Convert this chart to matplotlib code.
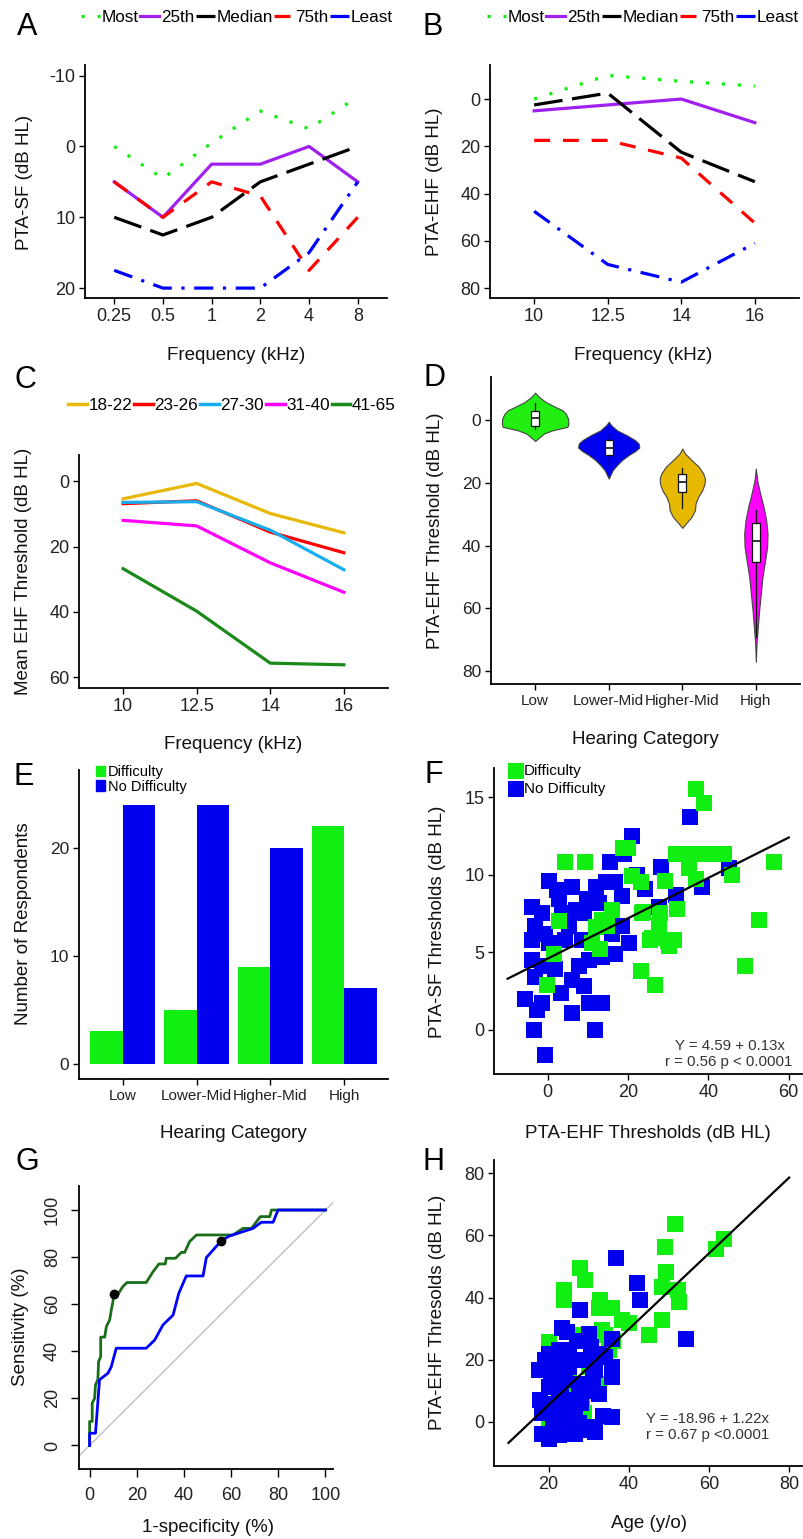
import numpy as np
import matplotlib.pyplot as plt
from matplotlib.lines import Line2D
from matplotlib.patches import Patch

plt.rcParams['font.family'] = ['Liberation Sans', 'DejaVu Sans']
plt.rcParams['axes.unicode_minus'] = False

W, H = 804, 1539

# ---------------- data ----------------
# A: PTA-SF percentiles
freq_sf = ['0.25', '0.5', '1', '2', '4', '8']
sf_most = [0, 4.5, -0.5, -5, -2.5, -7]
sf_25th = [5, 10, 2.5, 2.5, 0, 5]
sf_median = [10, 12.5, 10, 5, 2.5, 0]
sf_75th = [5, 10, 5, 7, 17.5, 10]
sf_least = [17.5, 20, 20, 20, 15, 5]

# B: PTA-EHF percentiles
freq_ehf = ['10', '12.5', '14', '16']
ehf_most = [0, -10, -7.5, -5.5]
ehf_25th = [5, 2.5, 0, 10]
ehf_median = [2.5, -2.5, 22.5, 35]
ehf_75th = [17.5, 17.5, 25, 52.5]
ehf_least = [47.5, 70, 77.5, 61]

# C: mean EHF threshold by age group
age_groups = ['18-22', '23-26', '27-30', '31-40', '41-65']
c_18_22 = [5.4, 0.7, 9.9, 15.8]
c_23_26 = [6.9, 6.0, 15.6, 21.9]
c_27_30 = [6.5, 6.3, 15.0, 27.1]
c_31_40 = [12.0, 13.7, 25.0, 34.0]
c_41_65 = [26.8, 39.8, 55.7, 56.2]

# D: violin profiles (threshold, relative half width) and box stats
hearing_cats = ['Low', 'Lower-Mid', 'Higher-Mid', 'High']
low_y = [-8.8, -7.4, -5.8, -4.2, -3.2, -2.1, -0.5, 1.1, 2.1, 2.7, 3.2, 4.2, 5.5, 6.6]
low_w = [0, 12, 32, 62, 82, 92, 99, 100, 97, 72, 52, 27, 12, 0]
lmid_y = [0.5, 1.6, 3.2, 4.8, 6.4, 7.4, 8.7, 9.8, 11.1, 12.7, 14.3, 15.9, 17.5, 18.6]
lmid_w = [0, 8, 25, 55, 80, 90, 92, 80, 60, 40, 25, 12, 5, 0]
hmid_y = [9.0, 10.6, 12.7, 14.9, 17.0, 18.6, 20.2, 22.3, 24.4, 26.5, 28.7, 30.8, 32.4, 34.3]
hmid_w = [0, 8, 28, 50, 63, 68, 67, 60, 48, 40, 38, 28, 15, 0]
high_y = [15.4, 19.1, 23.4, 27.6, 31.8, 36.1, 40.3, 44.6, 49.9, 55.2, 60.5, 65.8, 71.1, 77.0]
high_w = [0, 4, 13, 23, 31, 35, 34, 28, 20, 15, 10, 6, 2, 0]
box_q1 = [-2.9, 6.4, 17.0, 32.6]
box_med = [-0.8, 9.0, 19.6, 38.5]
box_q3 = [1.8, 11.1, 23.0, 45.3]
box_lo = [-5.5, 4.5, 15.1, 28.7]
box_hi = [2.9, 14.3, 28.1, 69.0]

# E: respondents per hearing category
difficulty = [3, 5, 9, 22]
no_difficulty = [24, 24, 20, 7]

# F: PTA-SF vs PTA-EHF
f_diff_x = [36.8, 38.8, 4.4, 9.2, 20, 31.8, 35.1, 38.4, 41.7, 43.8, 35.1, 36.8, 45.9, 56.3,
            29.3, 23.1, 23.5, 32.2, 28, 27.6, 25.5, 30.1, 31.4, 23.1, 26.8, 52.5, 49.2, 16,
            13.5, 11.9, 14.8, 2.7, -0.2, 1.5, 13.1, 11, 21, 26, 30, 23.7, 18.7]
f_diff_y = [15.5, 14.6, 10.8, 10.8, 11.7, 11.3, 11.3, 11.3, 11.3, 11.3, 10.4, 9.7, 10, 10.8,
            9.6, 9.5, 7.5, 7.8, 7.5, 6.7, 5.8, 5.4, 5.8, 3.8, 2.9, 7.1, 4.1, 7.7,
            7.1, 6.6, 6.7, 7.0, 2.9, 4.9, 5.2, 5.6, 9.9, 5.9, 5.7, 7.6, 11.7]
f_nodiff_x = [35.5, 21, 18.9, 15.6, 28.1, 22.2, 24.3, 38.4, 45, 31.8, 27.6, 0.2, 6.1, 2.7,
              11.9, 14.4, 16.8, -3.9, -1.4, -3.1, -3.9, -0.6, 3.6, 6.9, 9, 5.2, 8.5, 18.5,
              18.5, 20.2, 16.8, 16, 13.5, -3.9, -1.4, -3.1, 1.9, 7.7, 10.2, 6.1, 9, 3.2,
              -5.6, -1.4, -2.7, 6.1, 10.2, 13.5, -3.5, 11.7, -0.7, 0.2, 4.4, 2.3, 9.8, 12.7]
f_nodiff_y = [13.7, 12.5, 11.3, 10.8, 10.5, 10, 9.1, 9.2, 10.4, 8.7, 7.9, 9.6, 9.2, 8.4,
              9.2, 9.5, 9.5, 7.9, 7.5, 6.7, 5.8, 6.2, 7.5, 7.7, 7.5, 6.7, 5.8, 8.6,
              6.7, 5.6, 4.9, 6.2, 4.7, 4.5, 4.1, 3.4, 3.9, 4.1, 4.5, 3.2, 2.8, 2.4,
              2.0, 1.7, 1.3, 1.1, 1.7, 1.7, 0, 0, -1.6, 5.6, 5.8, 9.0, 8.4, 8.2]
f_fit = (4.59, 0.13)
f_fit_range = (-10, 60)

# G: ROC curves
roc_green_fpr = [0, 0, 1.1, 1.1, 2.1, 2.5, 3.5, 3.8, 4.7, 4.7, 6.4, 7.1, 8.5, 9.2, 9.9, 10.2,
                 12, 14.1, 15.8, 24, 26.9, 29.4, 32.1, 32.5, 36.4, 38.9, 40.3, 42.4, 45.3,
                 60.8, 65, 68.6, 72.4, 76.4, 77.1, 100]
roc_green_tpr = [0, 10.2, 10.2, 18, 20, 25.7, 28, 35.6, 37.8, 46, 46, 50.5, 53.3, 57.6, 61.1,
                 64.2, 64.2, 67.5, 69.2, 69.2, 73.8, 77.1, 77.1, 79.5, 79.5, 82, 82, 86.6,
                 89.4, 89.4, 92.2, 92.2, 97.2, 97.2, 100, 100]
roc_blue_fpr = [0, 0, 2.5, 4.2, 7.8, 9.2, 11.3, 24, 27.6, 31.1, 35.4, 37.8, 41, 48.1, 49.5,
                55.9, 59.4, 69.3, 72.8, 77.8, 79.9, 100]
roc_blue_tpr = [0, 5.2, 5.2, 27.9, 30.7, 33.5, 41.3, 41.3, 44.8, 51.2, 55.4, 64.6, 72, 72,
                79.8, 87, 89, 92.2, 94.8, 94.8, 100, 100]
cut_green = (10.2, 64.2)
cut_blue = (55.9, 87)

# H: PTA-EHF vs age
h_diff_x = [51.5, 49, 49.2, 48.3, 52.3, 52.5, 48.2, 45, 61.7, 63.75, 40, 38.3, 35.8, 32.9,
            32.5, 27.9, 29.2, 23.75, 23.75, 20, 20, 33.3, 35, 28.3, 32.5, 28.75, 28.3, 26.7,
            20.8, 25, 30, 34, 36, 19.5]
h_diff_y = [63.7, 56.4, 48.3, 43.5, 42.4, 38.6, 32.7, 27.9, 55.8, 59, 31.7, 32.7, 36.5, 39.2,
            36.5, 49.4, 45.6, 42.4, 39.2, 25.8, 1.1, 29.5, 23.1, 27.9, 12.3, 2.7, 5.9, 11.3,
            16.6, 14.5, 17.7, 28, 26, 20]
h_nodiff_x = [36.9, 42.1, 42.9, 54.2, 27.9, 30, 23.3, 24.5, 35.8, 32.5, 35.8, 35.8, 32.5, 35.8,
              17.5, 20, 22.5, 25, 26.7, 29.2, 31.7, 21.7, 24.2, 27.5, 20, 22.5, 25, 26.7,
              20, 21.7, 24.2, 27.5, 30, 31.7, 18.3, 20, 22.5, 25, 26.7, 28.3, 17.9, 18.3,
              25, 22.5, 19.2, 33.5, 29, 31, 23, 19, 21, 24, 28, 30.5, 34, 27, 20.5]
h_nodiff_y = [52.8, 44.6, 39.2, 26.8, 36, 28.4, 30.1, 29, 26.8, 22, 17.7, 14.5, 9.1, 1.6,
              16.6, 22, 23.1, 23.1, 19.9, 19.9, 16.6, 15.6, 13.4, 12.3, 11.3, 8, 7, 4.8,
              5.9, 2.7, 0.5, -0.5, -1.6, -3.2, -3.8, -5.4, -4.3, -2.7, -3.8, -2.7, 7, 2.7,
              17.7, 18.8, 19.9, 2, 10, 14, 11, 4, -2, 4, 6, 24, 21, 26, 13]
h_fit = (-18.96, 1.22)
h_fit_range = (10, 80)

# ---------------- helpers ----------------
fig = plt.figure(figsize=(W / 100, H / 100), dpi=100)


def px_axes(x0, y0, x1, y1):
    ax = fig.add_axes([x0 / W, 1 - y1 / H, (x1 - x0) / W, (y1 - y0) / H])
    for s in ['top', 'right']:
        ax.spines[s].set_visible(False)
    for s in ['left', 'bottom']:
        ax.spines[s].set_linewidth(1.3)
    ax.tick_params(length=4, width=1, labelsize=13, labelcolor='#222', pad=3)
    return ax


def ftext(x, y, s, **kw):
    kw.setdefault('ha', 'center')
    kw.setdefault('va', 'center')
    kw.setdefault('color', '#111')
    return fig.text(x / W, 1 - y / H, s, **kw)


green = '#11ee11'
purple = '#a020f0'
styles = [
    dict(color=green, dashes=(1, 4)),
    dict(color=purple),
    dict(color='black', dashes=(9, 3)),
    dict(color='red', dashes=(5, 4)),
    dict(color='blue', dashes=(6, 3, 1, 3)),
]
pct_labels = ['Most', '25th', 'Median', '75th', 'Least']
leg_kw = dict(loc='center left', ncol=5, frameon=False, fontsize=12.3, handlelength=1.1,
              handletextpad=0.1, columnspacing=0.1, borderaxespad=0, borderpad=0)

# ---------------- A ----------------
axA = px_axes(85, 65, 387, 298)
xs = np.arange(len(freq_sf))
for vals, st in zip([sf_most, sf_25th, sf_median, sf_75th, sf_least], styles):
    axA.plot(xs, vals, lw=2.3, **st)
axA.set_xticks(xs, freq_sf)
axA.set_yticks([-10, 0, 10, 20])
axA.set_xlim(-0.6, 5.6)
axA.set_ylim(21.4, -11.5)

# ---------------- B ----------------
axB = px_axes(490, 65, 799, 298)
xs = np.arange(len(freq_ehf))
for vals, st in zip([ehf_most, ehf_25th, ehf_median, ehf_75th, ehf_least], styles):
    axB.plot(xs, vals, lw=2.3, **st)
axB.set_xticks(xs, freq_ehf)
axB.set_yticks([0, 20, 40, 60, 80])
axB.set_xlim(-0.6, 3.6)
axB.set_ylim(84.2, -14.4)

for x0 in [81, 487]:
    hs = [Line2D([], [], lw=2.3, **st) for st in styles]
    fig.legend(hs, pct_labels, bbox_to_anchor=(x0 / W, 1 - 17 / H), **leg_kw)

# ---------------- C ----------------
axC = px_axes(79, 455, 388, 688)
xs = np.arange(len(freq_ehf))
c_colors = ['#e8b808', 'red', '#17aeef', '#ff00ff', '#1a8a1a']
for vals, col in zip([c_18_22, c_23_26, c_27_30, c_31_40, c_41_65], c_colors):
    axC.plot(xs, vals, color=col, lw=2.3)
axC.set_xticks(xs, freq_ehf)
axC.set_yticks([0, 20, 40, 60])
axC.set_xlim(-0.6, 3.6)
axC.set_ylim(63.3, -8)
hs = [Line2D([], [], color=c, lw=2.5) for c in c_colors]
fig.legend(hs, age_groups, bbox_to_anchor=(68 / W, 1 - 405 / H), **leg_kw)

# ---------------- D ----------------
axD = px_axes(491, 377, 800, 684)
pos = np.arange(1, 5)
profiles = [(low_y, low_w), (lmid_y, lmid_w), (hmid_y, hmid_w), (high_y, high_w)]
vp_stats = []
widths = []
for (yy, ww), med in zip(profiles, box_med):
    vp_stats.append(dict(coords=np.array(yy), vals=np.array(ww, float), mean=med,
                         median=med, min=min(yy), max=max(yy)))
    widths.append(2 * max(ww) / 3 / 73.7)
vio = axD.violin(vp_stats, positions=pos, widths=widths, showmeans=False,
                 showextrema=False, showmedians=False)
for body, col in zip(vio['bodies'], ['#22ee11', '#0000f0', '#e6b800', '#ff00ff']):
    body.set_facecolor(col)
    body.set_edgecolor('#444')
    body.set_linewidth(0.8)
    body.set_alpha(1)
bstats = [dict(med=m, q1=a, q3=b, whislo=lo, whishi=hi, fliers=[])
          for m, a, b, lo, hi in zip(box_med, box_q1, box_q3, box_lo, box_hi)]
axD.bxp(bstats, positions=pos, widths=0.11, patch_artist=True, showcaps=False,
        showfliers=False, manage_ticks=False,
        boxprops=dict(facecolor='white', edgecolor='#111', lw=0.9),
        whiskerprops=dict(color='#111', lw=0.9),
        medianprops=dict(color='#111', lw=1.2))
axD.set_xticks(pos, hearing_cats)
axD.tick_params(axis='x', labelsize=11)
axD.tick_params(axis='y', labelsize=12.5)
axD.set_yticks([0, 20, 40, 60, 80])
axD.set_xlim(0.4, 4.6)
axD.set_ylim(84.1, -13.8)

# ---------------- E ----------------
axE = px_axes(79, 770, 388, 1079)
pos = np.arange(1, 5)
bar_g = '#11ee11'
bar_b = '#0000ee'
axE.bar(pos - 0.22, difficulty, width=0.44, color=bar_g)
axE.bar(pos + 0.22, no_difficulty, width=0.44, color=bar_b)
axE.set_xticks(pos, hearing_cats)
axE.tick_params(axis='x', labelsize=11)
axE.tick_params(axis='y', labelsize=12.5)
axE.set_yticks([0, 10, 20])
axE.set_xlim(0.41, 4.59)
axE.set_ylim(-1.4, 27.2)
axE.legend([Patch(color=bar_g), Patch(color=bar_b)], ['Difficulty', 'No Difficulty'],
           loc='upper left', bbox_to_anchor=(96 / W, 1 - 765 / H),
           bbox_transform=fig.transFigure, frameon=False, fontsize=10.5,
           handlelength=0.65, handleheight=0.75, handletextpad=0.15, labelspacing=0.05,
           borderpad=0, borderaxespad=0)

# ---------------- F ----------------
axF = px_axes(494, 768, 802, 1074)
sq = 117
axF.scatter(f_nodiff_x, f_nodiff_y, marker='s', s=sq, color='#0000ee', lw=0,
            label='No Difficulty', zorder=2)
axF.scatter(f_diff_x, f_diff_y, marker='s', s=sq, color='#11ee11', lw=0,
            label='Difficulty', zorder=2)
xf = np.array(f_fit_range)
axF.plot(xf, f_fit[0] + f_fit[1] * xf, color='black', lw=1.6, zorder=3)
axF.set_xticks([0, 20, 40, 60])
axF.set_yticks([0, 5, 10, 15])
axF.set_xlim(-13.4, 63.3)
axF.set_ylim(-2.85, 16.87)
hF, lF = axF.get_legend_handles_labels()
axF.legend(hF[::-1], lF[::-1], loc='upper left', bbox_to_anchor=(508 / W, 1 - 764 / H),
           bbox_transform=fig.transFigure, frameon=False, fontsize=11,
           handletextpad=0.05, labelspacing=0.25, borderpad=0, borderaxespad=0,
           handlelength=1.0)
ftext(785, 1046, 'Y = 4.59 + 0.13x', ha='right', fontsize=10.8, color='#333')
ftext(792, 1062, 'r = 0.56 p < 0.0001', ha='right', fontsize=10.8, color='#333')

# ---------------- G ----------------
axG = px_axes(79, 1186, 333, 1469)
axG.plot([-5, 104], [-5, 104], color='#bbbbbb', lw=0.9)
axG.plot(roc_green_fpr, roc_green_tpr, color='#1a6e1a', lw=2)
axG.plot(roc_blue_fpr, roc_blue_tpr, color='#0000ff', lw=2)
axG.plot(*cut_green, 'o', color='black', ms=6, zorder=4)
axG.plot(*cut_blue, 'o', color='black', ms=6, zorder=4)
axG.set_xticks([0, 20, 40, 60, 80, 100])
axG.set_yticks([0, 20, 40, 60, 80, 100])
axG.tick_params(length=6, pad=7)
for lab in axG.get_yticklabels():
    lab.set_rotation(90)
    lab.set_va('center')
axG.set_xlim(-4.5, 103.2)
axG.set_ylim(-10, 110.2)

# ---------------- H ----------------
axH = px_axes(494, 1160, 802, 1466)
sq = 135
axH.scatter(h_diff_x, h_diff_y, marker='s', s=sq, color='#11ee11', lw=0, zorder=2)
axH.scatter(h_nodiff_x, h_nodiff_y, marker='s', s=sq, color='#0000ee', lw=0, zorder=2)
xh = np.array(h_fit_range)
axH.plot(xh, h_fit[0] + h_fit[1] * xh, color='black', lw=1.6, zorder=3)
axH.set_xticks([20, 40, 60, 80])
axH.set_yticks([0, 20, 40, 60, 80])
axH.set_xlim(6.4, 83.2)
axH.set_ylim(-14.2, 84.3)
ftext(646, 1419, 'Y = -18.96 + 1.22x', ha='left', fontsize=10.8, color='#333')
ftext(646, 1435, 'r = 0.67 p <0.0001', ha='left', fontsize=10.8, color='#333')

# ---------------- labels ----------------
lab = dict(fontsize=13.5)
ftext(25, 182, 'PTA-SF (dB HL)', rotation=90, **lab)
ftext(236, 355, 'Frequency (kHz)', **lab)
ftext(435, 182, 'PTA-EHF (dB HL)', rotation=90, **lab)
ftext(643, 355, 'Frequency (kHz)', **lab)
ftext(24, 571, 'Mean EHF Threshold (dB HL)', rotation=90, **lab)
ftext(233, 745, 'Frequency (kHz)', **lab)
ftext(436, 531, 'PTA-EHF Threshold (dB HL)', rotation=90, **lab)
ftext(645, 740, 'Hearing Category', **lab)
ftext(23.5, 924, 'Number of Respondents', rotation=90, **lab)
ftext(233, 1133, 'Hearing Category', **lab)
ftext(438, 922, 'PTA-SF Thresholds (dB HL)', rotation=90, **lab)
ftext(648, 1133, 'PTA-EHF Thresholds (dB HL)', **lab)
ftext(21, 1327, 'Sensitivity (%)', rotation=90, **lab)
ftext(208, 1528, '1-specificity (%)', **lab)
ftext(438, 1312, 'PTA-EHF Thresolds (dB HL)', rotation=90, **lab)
ftext(649, 1524, 'Age (y/o)', **lab)

for letter, (x, y) in zip('ABCDEFGH', [(27, 27), (433, 27), (25, 380), (435, 378),
                                       (24, 777), (434, 775), (27, 1162), (434, 1162)]):
    ftext(x, y, letter, fontsize=22, color='black')

fig.savefig('out.png', dpi=100)
